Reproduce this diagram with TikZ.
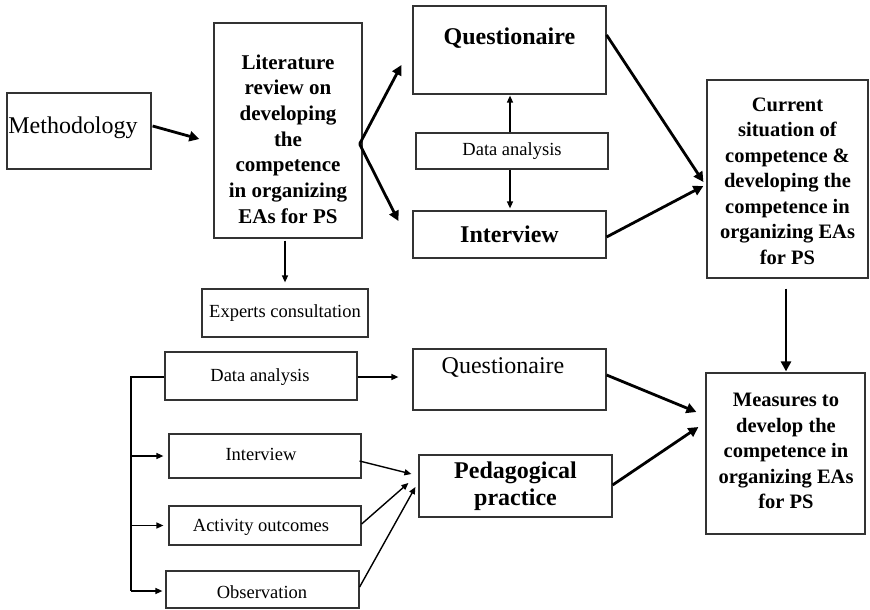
\documentclass[tikz,border=0pt]{standalone}
\usepackage{fontspec}
\setmainfont{Liberation Serif}
\usetikzlibrary{arrows.meta,calc}
\begin{document}
\begin{tikzpicture}[x=1pt,y=-1pt,
  box/.style={draw=black!80,line width=1.2pt,inner sep=0pt,minimum width=#1},
  fat/.style={line width=2.8pt,-{Triangle[length=10pt,width=10pt]}},
  slim/.style={line width=1.4pt,-{Triangle[length=7pt,width=6pt]}},
  bmulti/.style={font=\bfseries\fontsize{20.5}{25.5}\selectfont,align=center},
  small/.style={font=\fontsize{18.5}{22}\selectfont}
]
\useasboundingbox (0,0) rectangle (870,610);
% boxes
\node[box=144,minimum height=76] (meth) at (79,131) {};
\node[font=\fontsize{24}{28}\selectfont] (methT) at (73,128) {Methodology};
\node[box=148,minimum height=215] (lit) at (288,130.5) {};
\node[font=\bfseries\fontsize{21}{25.7}\selectfont,align=center] (litT) at (288,139) {Literature\\review on\\developing\\the\\competence\\in organizing\\EAs for PS};
\node[box=166,minimum height=48,small] (exp) at (285,313) {Experts consultation};
\node[box=193,minimum height=88] (q1) at (509.5,50) {};
\node[font=\bfseries\fontsize{24}{28}\selectfont] (q1T) at (509.5,38) {Questionaire};
\node[box=192,minimum height=36,small] (da1) at (512,151) {Data analysis};
\node[box=193,minimum height=47,font=\bfseries\fontsize{24}{28}\selectfont] (int1) at (509.5,234.5) {Interview};
\node[box=161,minimum height=198] (cur) at (787.5,179) {};
\node[bmulti] (curT) at (787.5,181) {Current\\situation of\\competence \&\\developing the\\competence in\\organizing EAs\\for PS};
\node[box=159,minimum height=161] (meas) at (785.5,453.5) {};
\node[bmulti] (measT) at (786,451) {Measures to\\develop the\\competence in\\organizing EAs\\for PS};
\node[box=192,minimum height=48] (da2) at (261,376) {};
\node[small] (da2T) at (260,377) {Data analysis};
\node[box=193,minimum height=61] (q2) at (509.5,379.5) {};
\node[font=\fontsize{24}{28}\selectfont] (q2T) at (503,367) {Questionaire};
\node[box=192,minimum height=44] (int2) at (265,456) {};
\node[small] (int2T) at (261,454) {Interview};
\node[box=192,minimum height=39] (act) at (265,525.5) {};
\node[small] (actT) at (261,527) {Activity outcomes};
\node[box=193,minimum height=37] (obs) at (262.5,589.5) {};
\node[small] (obsT) at (262,592) {Observation};
\node[box=193,minimum height=62,font=\bfseries\fontsize{24}{27}\selectfont,align=center] (ped) at (515.5,486) {Pedagogical\\practice};
% connectors
\draw[fat] ($(meth.east)+(1,-5)$) -- ($(lit.west)+(-14,8.5)$);
\coordinate (br) at ($(lit.east)+(-3,13.5)$);
\draw[fat] (br) -- ($(q1.west)+(-11,15)$);
\draw[fat] (br) -- ($(int1.west)+(-14,-13.5)$);
\draw[slim] ($(lit.south)+(-3,2)$) -- ($(exp.north)+(0,-6)$);
\draw[slim] ($(da1.north)+(-2,0)$) -- ($(q1.south)+(0.5,1)$);
\draw[slim] ($(da1.south)+(-2,0)$) -- ($(int1.north)+(0.5,-2)$);
\draw[fat] ($(q1.east)+(0,-15)$) -- ($(cur.west)+(-3,3)$);
\draw[fat] ($(int1.east)+(0,2.5)$) -- ($(cur.west)+(-3,7)$);
\draw[fat] ($(cur.south)+(-1.5,10)$) -- ($(meas.north)+(0.5,-1)$);
\draw[slim] ($(da2.east)+(0,1)$) -- ($(q2.west)+(-14,-2.5)$);
\coordinate (bt) at (131,377);
\coordinate (bb) at (131,591);
\draw[line width=1.8pt] ($(da2.west)+(0,1)$) -- (bt) -- (bb);
\draw[slim] (bt |- int2.west) -- ($(int2.west)+(-5,0)$);
\draw[slim] (bt |- act.west) -- ($(act.west)+(-5,0)$);
\draw[slim] (bb) -- ($(obs.west)+(-3,1.5)$);
\draw[slim] ($(int2.east)+(-2,5)$) -- ($(ped.west)+(-7,-12)$);
\draw[slim] ($(act.east)+(0,-1.5)$) -- ($(ped.west)+(-10,-3)$);
\draw[slim] ($(obs.east)+(0,-2.5)$) -- ($(ped.west)+(-3,1)$);
\draw[fat] ($(q2.east)+(0,-4.5)$) -- ($(meas.west)+(-9,-41.5)$);
\draw[fat] ($(ped.east)+(0,-1)$) -- ($(meas.west)+(-7,-26.5)$);
\end{tikzpicture}
\end{document}
